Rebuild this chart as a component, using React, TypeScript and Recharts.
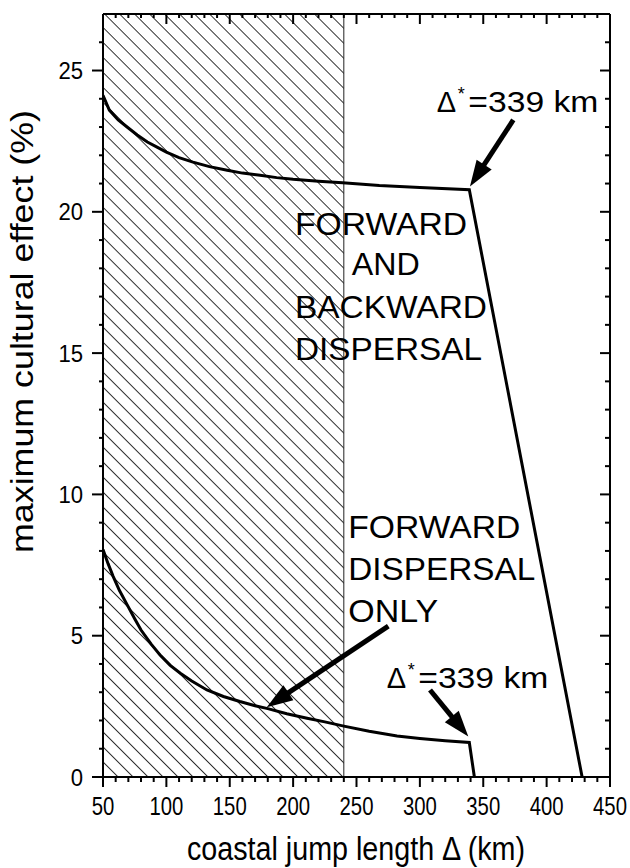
import React from "react";
import {
  ComposedChart,
  Line,
  XAxis,
  YAxis,
  ReferenceArea,
  ReferenceLine,
  ReferenceDot,
} from "recharts";

// forward and backward dispersal curve (km, %)
const bothX = [50, 55, 62, 69, 77, 85, 93, 100, 110, 121, 134, 148, 160, 174, 187, 200, 220, 239, 268, 300, 339, 428];
const bothY = [24.12, 23.6, 23.25, 23.0, 22.72, 22.47, 22.28, 22.11, 21.92, 21.76, 21.6, 21.47, 21.37, 21.29, 21.21, 21.15, 21.08, 21.03, 20.93, 20.86, 20.78, 0];

// forward dispersal only curve
const fwdX = [50, 54, 58, 63, 69, 75, 80, 88, 95, 103, 111, 120, 132, 145, 158, 170, 180, 195, 211, 225, 240, 260, 282, 300, 320, 339, 343];
const fwdY = [8.05, 7.55, 7.1, 6.6, 6.1, 5.6, 5.2, 4.7, 4.32, 3.95, 3.67, 3.4, 3.08, 2.85, 2.67, 2.52, 2.42, 2.24, 2.08, 1.95, 1.8, 1.62, 1.45, 1.36, 1.28, 1.22, 0];

const xAll = [50, 60, 70, 80, 90, 100, 110, 120, 130, 140, 150, 160, 170, 180, 190, 200, 210, 220, 230, 240, 250, 260, 270, 280, 290, 300, 310, 320, 330, 340, 350, 360, 370, 380, 390, 400, 410, 420, 430, 440, 450];
const yAll = [0, 1, 2, 3, 4, 5, 6, 7, 8, 9, 10, 11, 12, 13, 14, 15, 16, 17, 18, 19, 20, 21, 22, 23, 24, 25, 26];

const hatchRange = [50, 240];
const deltaStar = 339;

const bothData = bothX.map((x, i) => ({ x, y: bothY[i] }));
const fwdData = fwdX.map((x, i) => ({ x, y: fwdY[i] }));

const FONT = "'Liberation Sans', Arial, Helvetica, sans-serif";

// annotation placement (data coords: x km, y % at text baseline)
const upperBlock = [
  { text: "FORWARD", x: 201.5, y: 19.18, w: 172 },
  { text: "AND", x: 246.2, y: 17.76, w: 68 },
  { text: "BACKWARD", x: 201.5, y: 16.24, w: 192 },
  { text: "DISPERSAL", x: 201.5, y: 14.76, w: 187 },
];
const lowerBlock = [
  { text: "FORWARD", x: 243.5, y: 8.46, w: 172 },
  { text: "DISPERSAL", x: 243.5, y: 6.97, w: 187 },
  { text: "ONLY", x: 243.5, y: 5.48, w: 90 },
];
const starLabels = [
  { x: 313.3, y: 23.53 },
  { x: 273.8, y: 3.15 },
];
const arrows = [
  { from: { x: 373.7, y: 23.25 }, to: { x: 339.5, y: 20.9 } },
  { from: { x: 275.1, y: 5.34 }, to: { x: 179.2, y: 2.47 } },
  { from: { x: 308, y: 3.08 }, to: { x: 338.2, y: 1.43 } },
];

function XTickBottom(props: any) {
  const { x, y, payload } = props;
  const v = payload.value;
  const major = v % 50 === 0;
  const s = String(v);
  return (
    <g>
      <line x1={x} y1={y} x2={x} y2={y + (major ? 10 : 5)} stroke="#000" strokeWidth={2} />
      {major && (
        <text x={x} y={y + 38} textAnchor="middle" fontSize={26} fontFamily={FONT} fill="#000"
          textLength={11.3 * s.length} lengthAdjust="spacingAndGlyphs">
          {s}
        </text>
      )}
    </g>
  );
}

function XTickTop(props: any) {
  const { x, y, payload } = props;
  const major = payload.value % 50 === 0;
  return <line x1={x} y1={y} x2={x} y2={y + (major ? 10 : 4)} stroke="#000" strokeWidth={2} />;
}

function YTickLeft(props: any) {
  const { x, y, payload } = props;
  const v = payload.value;
  const major = v % 5 === 0;
  const s = String(v);
  return (
    <g>
      <line x1={x} y1={y} x2={x - (major ? 11 : 4)} y2={y} stroke="#000" strokeWidth={2} />
      {major && (
        <text x={x - 20} y={y + 8.5} textAnchor="end" fontSize={24} fontFamily={FONT} fill="#000"
          textLength={12.3 * s.length} lengthAdjust="spacingAndGlyphs">
          {s}
        </text>
      )}
    </g>
  );
}

function YTickRight(props: any) {
  const { x, y, payload } = props;
  const major = payload.value % 5 === 0;
  return <line x1={x} y1={y} x2={x - (major ? 10 : 5)} y2={y} stroke="#000" strokeWidth={2} />;
}

function Arrow(props: any) {
  const { x1, y1, x2, y2 } = props;
  const dx = x2 - x1;
  const dy = y2 - y1;
  const len = Math.hypot(dx, dy);
  const ux = dx / len;
  const uy = dy / len;
  const head = 26;
  const half = 9;
  const bx = x2 - ux * head;
  const by = y2 - uy * head;
  const px = -uy;
  const py = ux;
  return (
    <g>
      <line x1={x1} y1={y1} x2={bx + ux * 3} y2={by + uy * 3} stroke="#000" strokeWidth={5} />
      <polygon
        points={`${x2},${y2} ${bx + px * half},${by + py * half} ${bx - px * half},${by - py * half}`}
        fill="#000"
      />
    </g>
  );
}

const blockText = (text: string, w: number) => (props: any) => (
  <text x={props.cx} y={props.cy} fontSize={31} fontFamily={FONT} fill="#000"
    textLength={w} lengthAdjust="spacingAndGlyphs">
    {text}
  </text>
);

const starText = (props: any) => {
  const { cx, cy } = props;
  return (
    <g fontFamily={FONT} fill="#000">
      <text x={cx} y={cy} fontSize={29}>Δ</text>
      <text x={cx + 21} y={cy - 12} fontSize={18}>*</text>
      <text x={cx + 31.6} y={cy} fontSize={29} textLength={130} lengthAdjust="spacingAndGlyphs">
        ={deltaStar} km
      </text>
    </g>
  );
};

const XLabel = () => (
  <text x={356} y={860} textAnchor="middle" fontSize={34} fontFamily={FONT} fill="#000"
    textLength={338} lengthAdjust="spacingAndGlyphs">
    coastal jump length Δ (km)
  </text>
);

const YLabel = () => (
  <text x={33} y={331.5} transform="rotate(-90 33 331.5)" textAnchor="middle" fontSize={32}
    fontFamily={FONT} fill="#000" textLength={443} lengthAdjust="spacingAndGlyphs">
    maximum cultural effect (%)
  </text>
);

export default function App() {
  return (
    <div style={{ position: "absolute", left: 0, top: 0, width: 630, height: 868, background: "#fff" }}>
      <ComposedChart width={630} height={868} margin={{ top: 13, right: 19, bottom: 0, left: 0 }}>
        <defs>
          <pattern id="hatch" patternUnits="userSpaceOnUse" width={10.6} height={10.6} patternTransform="rotate(-45)">
            <line x1={0} y1={0} x2={0} y2={10.6} stroke="#000" strokeWidth={1.6} />
          </pattern>
        </defs>
        <XAxis
          xAxisId="b"
          type="number"
          dataKey="x"
          domain={[50, 450]}
          ticks={xAll}
          interval={0}
          height={91}
          tickSize={0}
          tickMargin={0}
          tickLine={false}
          axisLine={{ stroke: "#000", strokeWidth: 2 }}
          tick={<XTickBottom />}
          allowDataOverflow
          label={<XLabel />}
        />
        <XAxis
          xAxisId="t"
          orientation="top"
          type="number"
          dataKey="x"
          domain={[50, 450]}
          ticks={xAll}
          interval={0}
          height={1}
          tickSize={0}
          tickMargin={0}
          tickLine={false}
          axisLine={{ stroke: "#000", strokeWidth: 2 }}
          tick={<XTickTop />}
          allowDataOverflow
        />
        <YAxis
          yAxisId="l"
          type="number"
          domain={[0, 27]}
          ticks={yAll}
          interval={0}
          width={103}
          tickSize={0}
          tickMargin={0}
          tickLine={false}
          axisLine={{ stroke: "#000", strokeWidth: 2 }}
          tick={<YTickLeft />}
          allowDataOverflow
          label={<YLabel />}
        />
        <YAxis
          yAxisId="r"
          orientation="right"
          type="number"
          domain={[0, 27]}
          ticks={yAll}
          interval={0}
          width={1}
          tickSize={0}
          tickMargin={0}
          tickLine={false}
          axisLine={{ stroke: "#000", strokeWidth: 2 }}
          tick={<YTickRight />}
          allowDataOverflow
        />
        <ReferenceArea
          xAxisId="b"
          yAxisId="l"
          x1={hatchRange[0]}
          x2={hatchRange[1]}
          y1={0}
          y2={27}
          fill="url(#hatch)"
          fillOpacity={1}
          stroke="#222"
          strokeWidth={1}
        />
        {/* invisible copy bound to the mirror axes so they render */}
        <Line xAxisId="t" yAxisId="r" data={bothData} dataKey="y" type="linear" stroke="none"
          dot={false} activeDot={false} isAnimationActive={false} />
        <Line xAxisId="b" yAxisId="l" data={bothData} dataKey="y" type="linear" stroke="#000"
          strokeWidth={3} dot={false} activeDot={false} isAnimationActive={false} />
        <Line xAxisId="b" yAxisId="l" data={fwdData} dataKey="y" type="linear" stroke="#000"
          strokeWidth={3} dot={false} activeDot={false} isAnimationActive={false} />
        {arrows.map((a, i) => (
          <ReferenceLine key={`a${i}`} xAxisId="b" yAxisId="l" segment={[a.from, a.to]} shape={Arrow} ifOverflow="visible" />
        ))}
        {[...upperBlock, ...lowerBlock].map((t, i) => (
          <ReferenceDot key={`t${i}`} xAxisId="b" yAxisId="l" x={t.x} y={t.y} r={0}
            shape={blockText(t.text, t.w)} ifOverflow="visible" />
        ))}
        {starLabels.map((s, i) => (
          <ReferenceDot key={`s${i}`} xAxisId="b" yAxisId="l" x={s.x} y={s.y} r={0}
            shape={starText} ifOverflow="visible" />
        ))}
      </ComposedChart>
    </div>
  );
}
